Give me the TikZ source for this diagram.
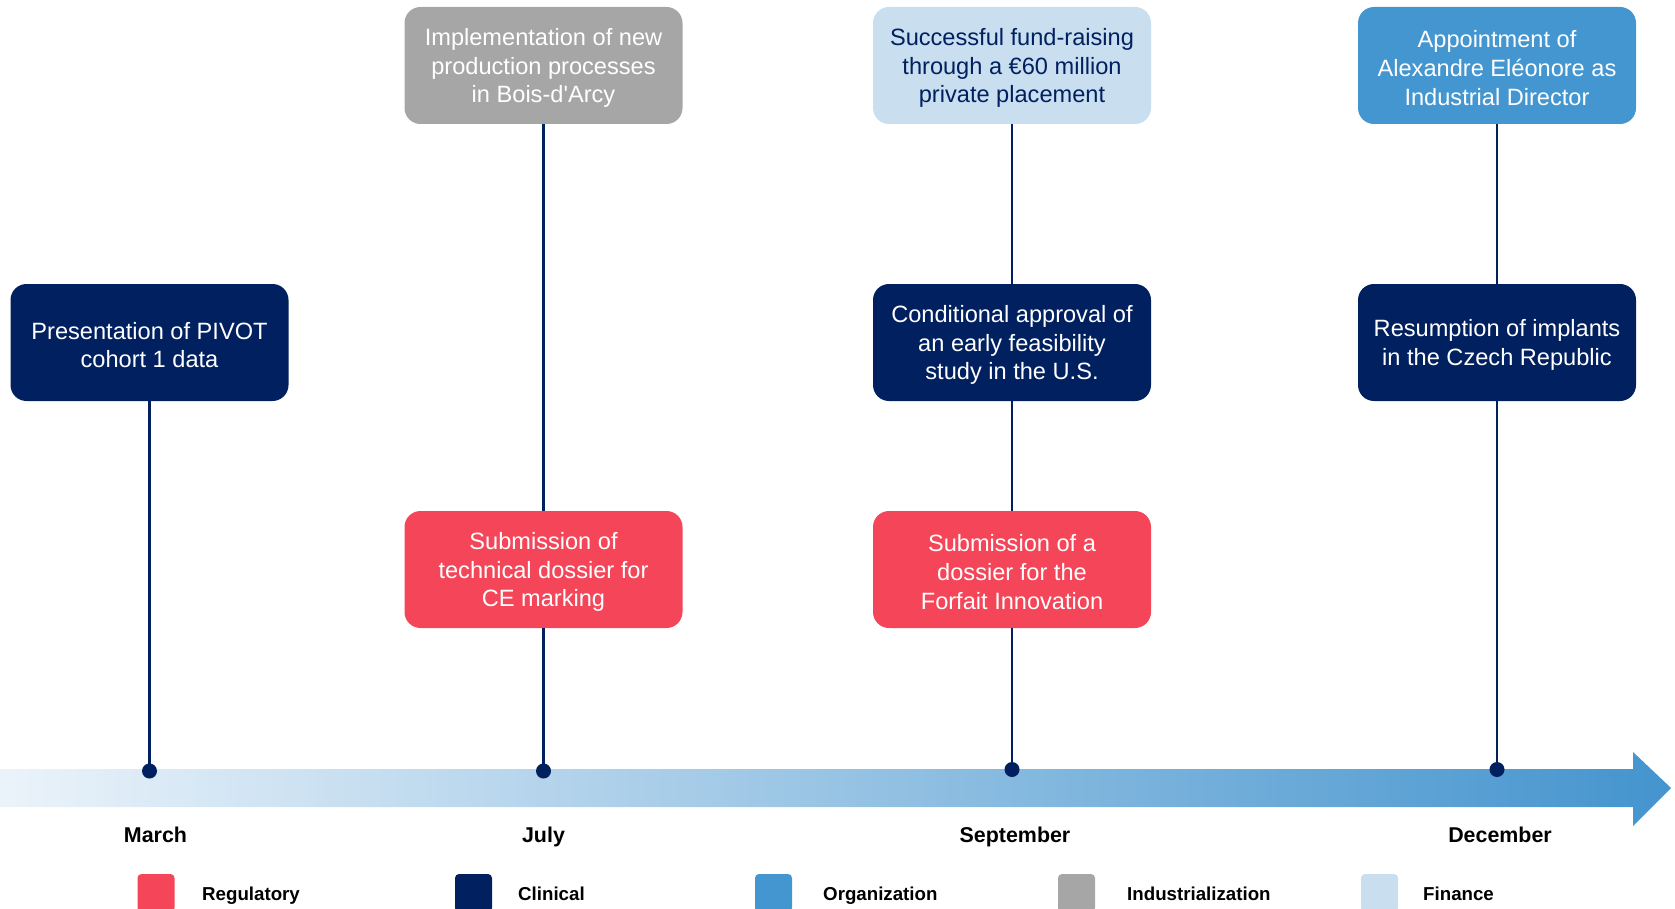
\documentclass[tikz,border=0pt]{standalone}
\usepackage{fontspec}
\setmainfont{Liberation Sans}
\definecolor{cNavy}{HTML}{002060}
\definecolor{cReg}{HTML}{F44658}
\definecolor{cOrg}{HTML}{4496D1}
\definecolor{cInd}{HTML}{A6A6A6}
\definecolor{cFin}{HTML}{C9DFEF}
\definecolor{cArrL}{HTML}{EBF3FA}
\definecolor{cArrR}{HTML}{4494CE}
\newcommand\evtext[1]{\raisebox{-2.5pt}[\height][\depth]{\parbox{275pt}{\centering\fontsize{23.6}{28.8}\selectfont #1}}}
\begin{document}
\begin{tikzpicture}[x=1pt,y=-1pt,
  ev/.style={rounded corners=16pt, minimum width=278pt, minimum height=117pt,
    inner sep=0pt, text=white},
  regbox/.style={ev, fill=cReg},
  clinbox/.style={ev, fill=cNavy},
  orgbox/.style={ev, fill=cOrg},
  indbox/.style={ev, fill=cInd},
  finbox/.style={ev, fill=cFin, text=cNavy},
  link/.style={draw=cNavy, line width=2.7pt},
  evdot/.style={circle, fill=cNavy, minimum size=15pt, inner sep=0pt},
  month/.style={font=\bfseries\fontsize{21.4}{24}\selectfont, anchor=base, inner sep=0pt},
  legbox/.style={rounded corners=4pt, minimum width=37pt, minimum height=38pt, inner sep=0pt},
  legtext/.style={font=\bfseries\fontsize{18.7}{22}\selectfont, anchor=base west, inner sep=0pt}]
\useasboundingbox (0,0) rectangle (1675,909);

% timeline arrow
\shade[left color=cArrL, right color=cArrR]
  (0,769) -- (1633,769) -- (1633,752) -- (1671,788) -- (1633,826) -- (1633,807) -- (0,807) -- cycle;

% event boxes
\node[clinbox] (mar1) at (149.5,342.5) {\evtext{Presentation of PIVOT\\cohort 1 data}};
\node[indbox]  (jul1) at (543.5,65.5) {\evtext{Implementation of new\\production processes\\in Bois-d\textquotesingle Arcy}};
\node[regbox]  (jul2) at (543.5,569.5) {\evtext{Submission of\\technical dossier for\\CE marking}};
\node[finbox]  (sep1) at (1012,65.5) {\evtext{Successful fund-raising\\through a €60 million\\private placement}};
\node[clinbox] (sep2) at (1012,342.5) {\evtext{Conditional approval of\\an early feasibility\\study in the U.S.}};
\node[regbox]  (sep3) at (1012,569.5) {\evtext{Submission of a\\dossier for the\\Forfait Innovation}};
\node[orgbox]  (dec1) at (1497,65.5) {\evtext{Appointment of\\Alexandre Eléonore as\\Industrial Director}};
\node[clinbox] (dec2) at (1497,342.5) {\evtext{Resumption of implants\\in the Czech Republic}};

% dots
\node[evdot] (dmar) at (149.5,771) {};
\node[evdot] (djul) at (543.5,771) {};
\node[evdot] (dsep) at (1012,769.5) {};
\node[evdot] (ddec) at (1497,769.5) {};

% connectors
\draw[link] (mar1.south) -- (dmar.center);
\draw[link] (jul1.south) -- (jul2.north);
\draw[link] (jul2.south) -- (djul.center);
\draw[link] (sep1.south) -- (sep2.north);
\draw[link] (sep2.south) -- (sep3.north);
\draw[link] (sep3.south) -- (dsep.center);
\draw[link] (dec1.south) -- (dec2.north);
\draw[link] (dec2.south) -- (ddec.center);

% months
\node[month] (mmar) at (155.5,842) {March};
\node[month] (mjul) at (543.5,842) {July};
\node[month] (msep) at (1015,842) {September};
\node[month] (mdec) at (1500,842) {December};

% legend
\node[legbox, fill=cReg]  (lreg) at (156,893) {};
\node[legtext] (treg) at (202,900.7) {Regulatory};
\node[legbox, fill=cNavy] (lcli) at (473.5,893) {};
\node[legtext] (tcli) at (518,900.7) {Clinical};
\node[legbox, fill=cOrg]  (lorg) at (773.5,893) {};
\node[legtext] (torg) at (823,900.7) {Organization};
\node[legbox, fill=cInd]  (lind) at (1076.5,893) {};
\node[legtext] (tind) at (1127,900.7) {Industrialization};
\node[legbox, fill=cFin]  (lfin) at (1379.5,893) {};
\node[legtext] (tfin) at (1423,900.7) {Finance};
\end{tikzpicture}
\end{document}
